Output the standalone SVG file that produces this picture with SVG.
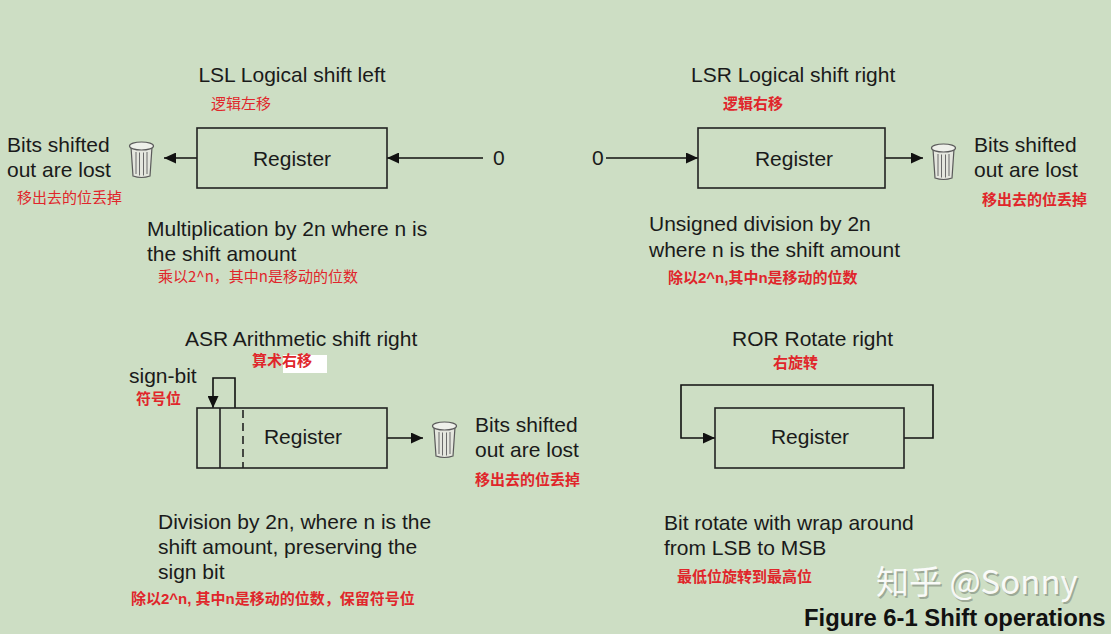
<svg xmlns="http://www.w3.org/2000/svg" width="1111" height="634" viewBox="0 0 1111 634">
<style>
.t{font-family:"Liberation Sans",Arial,sans-serif;font-size:21px;fill:#1a1a1a}
.c{font-family:"Noto Sans CJK SC",sans-serif;font-size:15px;fill:#e0262b}
.cb{font-family:"Liberation Sans","Noto Sans CJK SC",sans-serif;font-size:15px;fill:#e0262b;font-weight:bold}
.box{fill:none;stroke:#222;stroke-width:1.6}
.ln{fill:none;stroke:#111;stroke-width:1.6}
.mid{text-anchor:middle}
</style>
<defs>
<marker id="ah" markerUnits="userSpaceOnUse" markerWidth="13" markerHeight="11" refX="12" refY="5.5" orient="auto">
<path d="M0,0 L12,5.5 L0,11 z" fill="#111"/>
</marker>
<g id="trash">
<path d="M2,6 L4,35 Q12.5,38 21,35 L23,6 Z" fill="#e4e6de" stroke="#5a5a5a" stroke-width="1.2"/>
<ellipse cx="12.5" cy="5" rx="12" ry="4" fill="#eef0ea" stroke="#5a5a5a" stroke-width="1.2"/>
<path d="M7,11 V33 M10.5,11.5 V34.5 M14.5,11.5 V34.5 M18,11 V33" stroke="#6a6a6a" stroke-width="1"/>
</g>
</defs>
<rect width="1111" height="634" fill="#cddec4"/>

<g id="connectors">
<line class="ln" x1="197" y1="158" x2="164" y2="158" marker-end="url(#ah)"/>
<line class="ln" x1="483" y1="158" x2="387" y2="158" marker-end="url(#ah)"/>
<line class="ln" x1="606" y1="158" x2="698" y2="158" marker-end="url(#ah)"/>
<line class="ln" x1="885" y1="158" x2="923" y2="158" marker-end="url(#ah)"/>
<path class="ln" d="M235,408 V378 H213 V408" marker-end="url(#ah)"/>
<line class="ln" x1="387" y1="438" x2="423" y2="438" marker-end="url(#ah)"/>
<path class="ln" d="M904,438 H933 V385 H681 V438 H715" marker-end="url(#ah)"/>
</g>

<g id="lsl">
<text class="t mid" x="292" y="82">LSL Logical shift left</text>
<text class="c" x="211" y="109">逻辑左移</text>
<g id="lsl-register">
<rect class="box" x="197" y="128" width="190" height="60"/>
<text class="t mid" x="292" y="166">Register</text>
</g>
<g id="lsl-trash"><use href="#trash" x="129" y="141"/></g>
<g id="lsl-lost">
<text class="t" x="7" y="152">Bits shifted</text>
<text class="t" x="7" y="177">out are lost</text>
<text class="c" x="17" y="203">移出去的位丢掉</text>
</g>
<g id="lsl-zero"><text class="t" x="493" y="165">0</text></g>
<g id="lsl-desc">
<text class="t" x="147" y="236">Multiplication by 2n where n is</text>
<text class="t" x="147" y="261">the shift amount</text>
<text class="c" x="158" y="282">乘以2^n，其中n是移动的位数</text>
</g>
</g>

<g id="lsr">
<text class="t" x="691" y="82">LSR Logical shift right</text>
<text class="cb" x="723" y="109">逻辑右移</text>
<g id="lsr-zero"><text class="t" x="592" y="165">0</text></g>
<g id="lsr-register">
<rect class="box" x="698" y="128" width="187" height="60"/>
<text class="t mid" x="794" y="166">Register</text>
</g>
<g id="lsr-trash"><use href="#trash" x="931" y="143"/></g>
<g id="lsr-lost">
<text class="t" x="974" y="152">Bits shifted</text>
<text class="t" x="974" y="177">out are lost</text>
<text class="cb" x="982" y="205">移出去的位丢掉</text>
</g>
<g id="lsr-desc">
<text class="t" x="649" y="231">Unsigned division by 2n</text>
<text class="t" x="649" y="257">where n is the shift amount</text>
<text class="cb" x="668" y="283">除以2^n,其中n是移动的位数</text>
</g>
</g>

<g id="asr">
<text class="t" x="185" y="346">ASR Arithmetic shift right</text>
<rect x="283" y="355" width="44" height="18" fill="#ffffff"/>
<text class="cb" x="252" y="366">算术右移</text>
<g id="asr-sign">
<text class="t" x="129" y="383">sign-bit</text>
<text class="cb" x="136" y="404">符号位</text>
</g>
<g id="asr-register">
<rect class="box" x="197" y="408" width="190" height="60"/>
<line class="box" x1="220" y1="408" x2="220" y2="468"/>
<line class="box" x1="243" y1="410" x2="243" y2="468" stroke-dasharray="8,5"/>
<text class="t mid" x="303" y="444">Register</text>
</g>
<g id="asr-trash"><use href="#trash" x="432" y="421"/></g>
<g id="asr-lost">
<text class="t" x="475" y="432">Bits shifted</text>
<text class="t" x="475" y="457">out are lost</text>
<text class="cb" x="475" y="485">移出去的位丢掉</text>
</g>
<g id="asr-desc">
<text class="t" x="158" y="529">Division by 2n, where n is the</text>
<text class="t" x="158" y="554">shift amount, preserving the</text>
<text class="t" x="158" y="579">sign bit</text>
<text class="cb" x="131" y="604">除以2^n, 其中n是移动的位数，保留符号位</text>
</g>
</g>

<g id="ror">
<text class="t" x="732" y="346">ROR Rotate right</text>
<text class="cb" x="773" y="368">右旋转</text>
<g id="ror-register">
<rect class="box" x="715" y="408" width="189" height="60"/>
<text class="t mid" x="810" y="444">Register</text>
</g>
<g id="ror-desc">
<text class="t" x="664" y="530">Bit rotate with wrap around</text>
<text class="t" x="664" y="555">from LSB to MSB</text>
<text class="cb" x="677" y="582">最低位旋转到最高位</text>
</g>
</g>

<g id="watermark" font-family="'Noto Sans CJK SC',sans-serif" font-size="33">
<text x="877.5" y="595.5" fill="#8a9584" opacity="0.7">知乎 @Sonny</text>
<text x="876" y="594" fill="#ffffff" opacity="0.9">知乎 @Sonny</text>
</g>
<g id="caption">
<text x="804" y="626" font-family="'Liberation Sans',Arial,sans-serif" font-weight="bold" font-size="23.8" fill="#111">Figure 6-1 Shift operations</text>
</g>
</svg>
